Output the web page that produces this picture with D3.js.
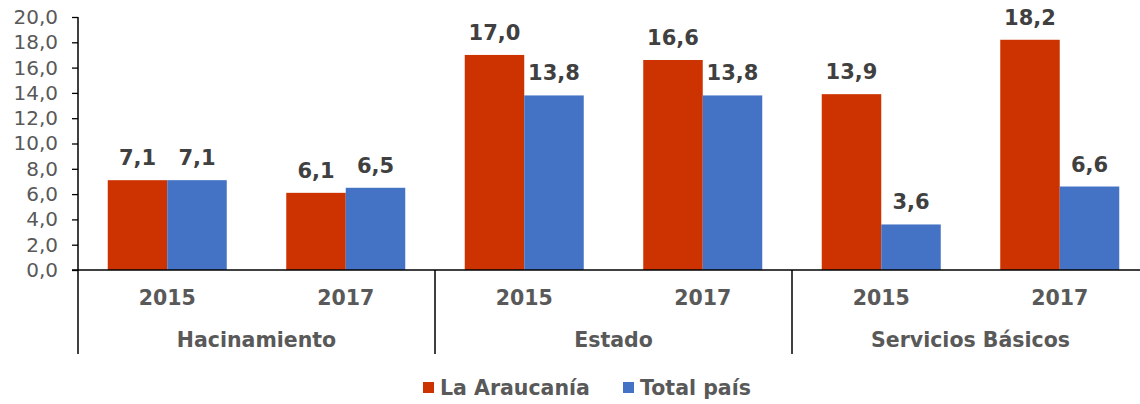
<!DOCTYPE html>
<html><head><meta charset="utf-8">
<script src="https://cdn.jsdelivr.net/npm/d3@7"></script>
<style>body{margin:0;background:#fff}svg{display:block}</style>
</head><body>
<svg id="c" width="1140" height="404"></svg>
<script>
const groups = ["Hacinamiento","Estado","Servicios Básicos"];
const years = ["2015","2017"];
const categories = [
  {group:"Hacinamiento", year:"2015"},
  {group:"Hacinamiento", year:"2017"},
  {group:"Estado", year:"2015"},
  {group:"Estado", year:"2017"},
  {group:"Servicios Básicos", year:"2015"},
  {group:"Servicios Básicos", year:"2017"}
];
const seriesNames = ["La Araucanía","Total país"];
const araucania = [7.1, 6.1, 17.0, 16.6, 13.9, 18.2];
const totalPais = [7.1, 6.5, 13.8, 13.8, 3.6, 6.6];
const yTicks = [0,2,4,6,8,10,12,14,16,18,20];
const colors = ["#CC3300","#4472C4"];

(function(){
const svg = d3.select("#c");
const font = "'DejaVu Sans', Verdana, sans-serif";
const pL = 78, pR = 1149, pT = 17, pB = 270;
const x = d3.scaleBand().domain(d3.range(categories.length)).range([pL, pR]).paddingInner(0).paddingOuter(0);
const xs = d3.scaleBand().domain([0,1]).range([0, x.bandwidth()]).paddingInner(0).paddingOuter(0.5);
const y = d3.scaleLinear().domain([0,20]).range([pB, pT]);
const fmt = v => d3.format(".1f")(v).replace(".", ",");

// y axis
const yAxis = d3.axisLeft(y).tickValues(yTicks).tickSize(6).tickPadding(14).tickFormat(fmt);
const ga = svg.append("g").attr("transform", `translate(${pL},0)`).call(yAxis);
ga.select(".domain").remove();
ga.selectAll(".tick line").attr("stroke", "#000").attr("stroke-width", 1.3);
ga.selectAll(".tick text").attr("font-family", font).attr("font-size", 20).attr("fill", "#595959");

const series = [araucania, totalPais];
series.forEach((vals, si) => {
  svg.append("g").selectAll("rect").data(vals).join("rect")
    .attr("x", (d,i) => x(i) + xs(si))
    .attr("y", d => y(d))
    .attr("width", xs.bandwidth())
    .attr("height", d => y(0) - y(d))
    .attr("fill", colors[si]);
  svg.append("g").selectAll("text").data(vals).join("text")
    .attr("x", (d,i) => x(i) + xs(si) + xs.bandwidth()/2)
    .attr("y", d => y(d) - 15)
    .attr("text-anchor", "middle")
    .attr("font-family", font).attr("font-weight", "bold").attr("font-size", 21)
    .attr("fill", "#404040")
    .text(d => fmt(d));
});

// axis lines
svg.append("line").attr("x1", pL).attr("x2", 1140).attr("y1", pB).attr("y2", pB).attr("stroke", "#000").attr("stroke-width", 1.5);
svg.append("line").attr("x1", pL).attr("x2", pL).attr("y1", pT).attr("y2", 354).attr("stroke", "#000").attr("stroke-width", 1.5);
svg.append("line").attr("x1", pL-6).attr("x2", pL).attr("y1", pB).attr("y2", pB).attr("stroke", "#000").attr("stroke-width", 1.5);
// group dividers
groups.forEach((g, gi) => {
  if (gi > 0) {
    const xd = x(gi*2);
    svg.append("line").attr("x1", xd).attr("x2", xd).attr("y1", pB).attr("y2", 354).attr("stroke", "#000").attr("stroke-width", 1.5);
  }
  svg.append("text")
    .attr("x", x(gi*2) + x.bandwidth())
    .attr("y", 347)
    .attr("text-anchor", "middle")
    .attr("font-family", font).attr("font-weight", "bold").attr("font-size", 20.5)
    .attr("fill", "#595959").text(g);
});
// year labels
svg.append("g").selectAll("text").data(categories).join("text")
  .attr("x", (d,i) => x(i) + x.bandwidth()/2)
  .attr("y", 305)
  .attr("text-anchor", "middle")
  .attr("font-family", font).attr("font-weight", "bold").attr("font-size", 20.5)
  .attr("fill", "#595959").text(d => d.year);

// legend
const legX = [423, 623];
seriesNames.forEach((n, i) => {
  svg.append("rect").attr("x", legX[i]).attr("y", 382).attr("width", 11).attr("height", 11).attr("fill", colors[i]);
  svg.append("text").attr("x", legX[i] + 17).attr("y", 395)
    .attr("font-family", font).attr("font-weight", "bold").attr("font-size", 20.5)
    .attr("fill", "#595959").text(n);
});
})();
</script>
</body></html>
